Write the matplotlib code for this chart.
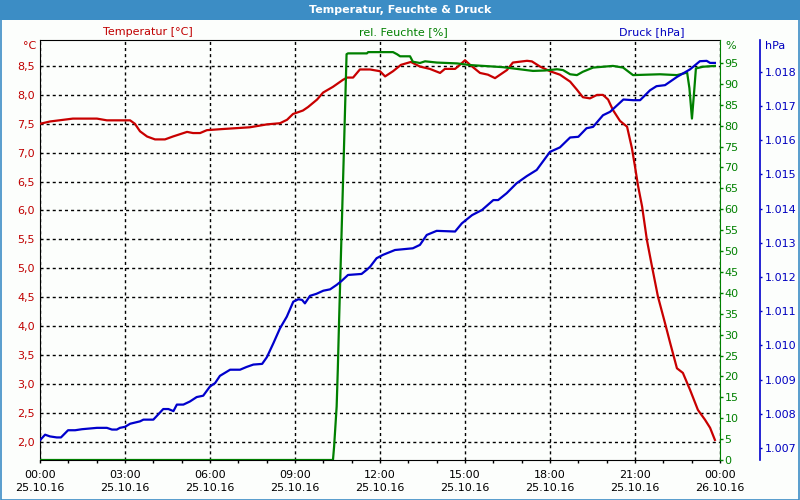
import matplotlib
matplotlib.use("Agg")
import matplotlib.pyplot as plt
from matplotlib.patches import Rectangle
from matplotlib.ticker import FuncFormatter, MultipleLocator

# ---------------------------------------------------------------- data
temp_hours = [0.00, 0.35, 1.16, 2.01, 2.36, 3.18, 3.35, 3.53, 3.78, 4.06, 4.41, 4.69,
              5.19, 5.40, 5.65, 5.89, 6.46, 7.41, 8.01, 8.47, 8.72, 8.93, 9.28, 9.46,
              9.78, 9.99, 10.34, 10.69, 10.84, 11.05, 11.29, 11.65, 12.00, 12.18, 12.46,
              12.74, 13.09, 13.41, 13.76, 14.12, 14.29, 14.65, 14.82, 15.00, 15.18, 15.53,
              15.81, 16.06, 16.24, 16.48, 16.69, 17.19, 17.36, 17.65, 18.00, 18.35, 18.71,
              18.95, 19.16, 19.41, 19.66, 19.87, 20.05, 20.22, 20.47, 20.72, 20.89, 21.00,
              21.11, 21.25, 21.42, 21.60, 21.81, 22.06, 22.24, 22.48, 22.69, 22.94, 23.22,
              23.47, 23.65, 23.82]
temp_vals = [7.50, 7.54, 7.59, 7.59, 7.56, 7.56, 7.50, 7.37, 7.28, 7.23, 7.23, 7.28,
             7.36, 7.34, 7.34, 7.39, 7.41, 7.44, 7.49, 7.51, 7.57, 7.67, 7.73, 7.79,
             7.92, 8.04, 8.14, 8.26, 8.30, 8.30, 8.44, 8.44, 8.41, 8.32, 8.41,
             8.52, 8.57, 8.49, 8.45, 8.38, 8.45, 8.45, 8.52, 8.60, 8.52, 8.38,
             8.35, 8.29, 8.35, 8.43, 8.56, 8.59, 8.58, 8.49, 8.41, 8.35, 8.23,
             8.09, 7.96, 7.94, 8.00, 8.00, 7.92, 7.74, 7.55, 7.45, 7.08, 6.76,
             6.42, 6.07, 5.49, 5.03, 4.51, 4.05, 3.71, 3.27, 3.19, 2.90, 2.55,
             2.38, 2.24, 2.03]

hum_hours = [0.00, 10.34, 10.38, 10.44, 10.47, 10.51, 10.55, 10.59, 10.73, 10.82, 10.87,
             11.54, 11.58, 12.46, 12.60, 12.71, 13.06, 13.16, 13.41, 13.59, 14.01,
             14.72, 15.18, 16.34, 17.40, 17.82, 18.25, 18.46, 18.71, 18.95, 19.16,
             19.52, 20.22, 20.58, 20.93, 21.88, 22.48, 22.84, 22.92, 23.01, 23.08,
             23.15, 23.40, 23.82]
hum_vals = [0.0, 0.0, 3.2, 9.6, 12.8, 21.5, 31.9, 41.5, 75.0, 97.1, 97.3,
            97.3, 97.6, 97.6, 97.1, 96.6, 96.6, 95.3, 95.0, 95.4, 95.1,
            94.9, 94.5, 94.0, 93.1, 93.2, 93.5, 93.3, 92.3, 92.1, 92.9,
            93.9, 94.3, 93.9, 92.1, 92.3, 92.1, 92.7, 89.0, 81.7, 87.5,
            93.7, 94.1, 94.3]

pres_hours = [0.00, 0.18, 0.35, 0.59, 0.74, 0.99, 1.24, 1.48, 2.01, 2.36, 2.54, 2.71,
              2.82, 3.00, 3.18, 3.53, 3.65, 4.00, 4.35, 4.53, 4.71, 4.83, 5.06, 5.29,
              5.53, 5.76, 6.00, 6.18, 6.35, 6.71, 7.06, 7.29, 7.53, 7.84, 8.01, 8.24,
              8.47, 8.71, 8.94, 9.12, 9.25, 9.35, 9.53, 9.76, 10.00, 10.24, 10.47, 10.65,
              10.87, 11.35, 11.53, 11.65, 11.88, 12.11, 12.53, 13.16, 13.41, 13.65, 14.00,
              14.65, 14.89, 15.25, 15.60, 16.00, 16.17, 16.47, 16.82, 17.18, 17.53, 18.00,
              18.35, 18.71, 19.00, 19.29, 19.52, 19.87, 20.12, 20.59, 20.94, 21.18, 21.53,
              21.76, 22.06, 22.48, 22.94, 23.29, 23.53, 23.65, 23.82]
pres_vals = [1.00723, 1.00739, 1.00734, 1.00731, 1.00731, 1.00752, 1.00752, 1.00755,
             1.00759, 1.00759, 1.00754, 1.00754, 1.00759, 1.00762, 1.00771, 1.00778,
             1.00783, 1.00783, 1.00814, 1.00814, 1.00808, 1.00827, 1.00827, 1.00836,
             1.00849, 1.00853, 1.00880, 1.00890, 1.00911, 1.00929, 1.00929, 1.00937,
             1.00944, 1.00946, 1.00966, 1.01007, 1.01050, 1.01084, 1.01128, 1.01135,
             1.01133, 1.01123, 1.01145, 1.01151, 1.01160, 1.01164, 1.01177, 1.01189,
             1.01206, 1.01209, 1.01221, 1.01230, 1.01255, 1.01265, 1.01279, 1.01284,
             1.01294, 1.01323, 1.01335, 1.01333, 1.01357, 1.01381, 1.01396, 1.01425,
             1.01425, 1.01445, 1.01474, 1.01495, 1.01513, 1.01566, 1.01579, 1.01608,
             1.01610, 1.01635, 1.01639, 1.01673, 1.01683, 1.01719, 1.01717, 1.01717,
             1.01746, 1.01758, 1.01761, 1.01785, 1.01807, 1.01831, 1.01832, 1.01826,
             1.01826]

x_tick_hours = [0, 3, 6, 9, 12, 15, 18, 21, 24]
x_tick_labels = ["00:00\n25.10.16", "03:00\n25.10.16", "06:00\n25.10.16", "09:00\n25.10.16",
                 "12:00\n25.10.16", "15:00\n25.10.16", "18:00\n25.10.16", "21:00\n25.10.16",
                 "00:00\n26.10.16"]

TITLE = "Temperatur, Feuchte & Druck"
RED, GREEN, BLUE = "#c80000", "#008000", "#0000cc"
RED_TXT, BLUE_TXT = "#c00000", "#0000c0"
BAR = "#3c8dc5"
W, H = 800, 500


def fx(x):
    return x / W


def fy(y):
    return 1 - y / H


plt.rcParams["font.family"] = ["DejaVu Sans"]
plt.rcParams["font.size"] = 8

fig = plt.figure(figsize=(8, 5), dpi=100, facecolor="#fcfefc")

# title bar + frame
fig.patches.append(Rectangle((0, fy(20)), 1, 20 / H, transform=fig.transFigure,
                             facecolor=BAR, edgecolor="none", zorder=0))
fig.patches.append(Rectangle((0.5 / W, 0.5 / H), 1 - 1.5 / W, 1 - 1.5 / H,
                             transform=fig.transFigure, facecolor="none",
                             edgecolor=BAR, lw=1.2, zorder=0))
fig.text(0.5, fy(10), TITLE, color="white", fontweight="bold", fontsize=8,
         ha="center", va="center")

ax = fig.add_axes([fx(40), fy(460), fx(680), 420 / H])
ax.set_facecolor("#fcfefc")
hum = ax.twinx()
pres = ax.twinx()

# temperature (host)
ax.plot(temp_hours, temp_vals, color=RED, lw=1.6, zorder=3)
ax.set_xlim(0, 24)
ax.set_ylim(1.683, 8.95)
ax.yaxis.set_major_locator(MultipleLocator(0.5))
ax.yaxis.set_major_formatter(FuncFormatter(lambda v, _: f"{v:.1f}".replace(".", ",")))
ax.tick_params(axis="y", length=0, pad=3.6, colors=RED_TXT, labelsize=8)
ax.set_xticks(x_tick_hours, x_tick_labels)
ax.xaxis.set_minor_locator(MultipleLocator(1))
ax.tick_params(axis="x", which="both", length=2, width=1, direction="out", pad=5)
for lab in ax.get_xticklabels():
    lab.set_linespacing(1.45)
ax.grid(True, which="major", color="black", lw=1, linestyle=(0, (2.2, 2.2)))
ax.spines["right"].set_visible(False)
for s in ("left", "top", "bottom"):
    ax.spines[s].set_color("black")

# humidity
hum.plot(hum_hours, hum_vals, color=GREEN, lw=1.6)
hum.set_ylim(0, 100.5)
hum.set_yticks(range(0, 100, 5))
hum.tick_params(axis="y", colors=GREEN, length=2.2, width=1, pad=1, labelsize=8)
hum.spines["right"].set_color(GREEN)
for s in ("left", "top", "bottom"):
    hum.spines[s].set_visible(False)

# pressure
pres.plot(pres_hours, pres_vals, color=BLUE, lw=1.6)
pres.set_ylim(1.00665, 1.01893)
pres.yaxis.set_major_locator(MultipleLocator(0.001))
pres.yaxis.set_major_formatter(FuncFormatter(lambda v, _: f"{v:.3f}"))
pres.spines["right"].set_position(("outward", 28.8))
pres.spines["right"].set_color(BLUE)
pres.spines["right"].set_linewidth(1.2)
for s in ("left", "top", "bottom"):
    pres.spines[s].set_visible(False)
pres.tick_params(axis="y", colors=BLUE_TXT, length=1.5, width=1, pad=2, labelsize=8)

# unit labels and series captions
fig.text(fx(36), fy(46), "°C", color=RED_TXT, ha="right", va="center")
fig.text(fx(725), fy(46), "%", color=GREEN, ha="left", va="center")
fig.text(fx(765), fy(46), "hPa", color=BLUE_TXT, ha="left", va="center")
fig.text(fx(148), fy(32), "Temperatur [°C]", color=RED_TXT, ha="center", va="center")
fig.text(fx(403), fy(32), "rel. Feuchte [%]", color=GREEN, ha="center", va="center")
fig.text(fx(652), fy(32), "Druck [hPa]", color=BLUE_TXT, ha="center", va="center")

fig.savefig("out.png", dpi=100, facecolor=fig.get_facecolor())
